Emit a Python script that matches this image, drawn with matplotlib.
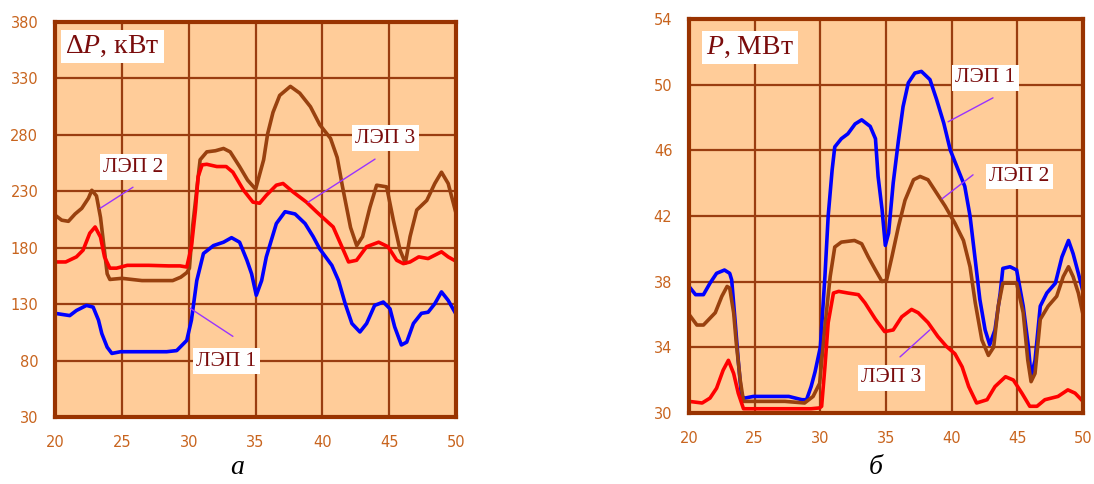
import numpy as np
import matplotlib
matplotlib.use('agg')
import matplotlib.pyplot as plt

plt.rcParams['mathtext.fontset'] = 'custom'
plt.rcParams['mathtext.rm'] = 'Liberation Serif'
plt.rcParams['mathtext.it'] = 'Liberation Serif:italic'

# --- losses, kW (left panel) ---
dp1_x = [20, 21.1, 21.6, 22.35, 22.85, 23.25, 23.5, 23.9, 24.25, 24.9, 26, 27.5, 28.35, 29.1, 29.85,
         30.2, 30.6, 31.1, 31.85, 32.6, 33.2, 33.8, 34.35, 34.7, 35.05, 35.45, 35.8, 36.55, 37.2,
         37.95, 38.7, 39.3, 39.8, 40.7, 41.2, 41.7, 42.2, 42.8, 43.3, 43.9, 44.55, 45.05, 45.4,
         45.9, 46.3, 46.8, 47.4, 47.9, 48.4, 48.9, 49.4, 50]
dp1_y = [122, 120, 124.5, 129, 127.5, 116, 104, 92, 86.5, 88, 88, 88, 88, 89, 98,
         116, 151, 175, 182, 185, 189, 185, 169, 157, 138, 151, 172, 201.5, 212,
         210, 201.5, 190, 179, 164.5, 151, 130.5, 113, 105.5, 113, 129, 132, 126, 110,
         94, 96.5, 113, 122, 123, 130.5, 141, 133.5, 121]

dp2_x = [20, 20.5, 21, 21.5, 22, 22.5, 22.75, 23.1, 23.4, 23.9, 24.1, 25, 26.5, 28, 28.8, 29.4, 29.85,
         30.05, 30.3, 30.85, 31.35, 32.0, 32.6, 33.1, 33.8, 34.4, 35.0, 35.6, 35.9, 36.3, 36.8,
         37.6, 38.3, 39.1, 39.8, 40.6, 41.1, 41.5, 42.1, 42.56, 43.0, 43.55, 44.05, 44.8, 45.3,
         45.8, 46.2, 46.55, 47.05, 47.8, 48.4, 48.9, 49.4, 50]
dp2_y = [209, 204.5, 203.5, 210, 215, 224, 231, 226, 207, 157, 152, 153, 151, 151, 151, 154, 158,
         162, 200, 258, 265, 266, 268, 265, 252, 240, 232, 258, 281, 300, 315,
         323, 317, 305, 289, 277, 260, 234, 198, 182, 190, 216, 235.5, 234, 204.5,
         178, 166.5, 190, 213.5, 222, 237, 247, 237, 210]

dp3_x = [20, 20.8, 21.6, 22.1, 22.6, 23.0, 23.4, 23.7, 24.1, 24.6, 25.4, 27, 28.5, 29.35, 29.85,
         30.2, 30.5, 30.7, 31.0, 31.35, 32.1, 32.8, 33.3, 34.1, 34.8, 35.3, 35.8, 36.55, 37.05,
         37.8, 38.8, 39.55, 40.1, 40.8, 41.45, 41.95, 42.55, 43.3, 44.2, 44.9, 45.55, 46.05,
         46.55, 47.2, 47.9, 48.4, 48.9, 49.4, 50]
dp3_y = [167.5, 167.5, 172, 178, 193, 198.5, 189.5, 172, 162, 162, 164.5, 164.5, 164, 164, 163,
         181, 213.5, 243, 253.5, 254, 252, 252, 247, 231, 220.5, 219.5, 226.5, 235.5, 237,
         229.5, 220.5, 212, 206, 198.5, 181, 167.5, 169, 181, 185, 181, 169, 166,
         167.5, 172, 170.5, 173.5, 176.5, 172, 168]

# --- power flow, MW (right panel) ---
p1_x = [20, 20.5, 21.1, 21.6, 22.1, 22.7, 23.1, 23.25, 23.5, 23.75, 24.0, 24.25, 24.9, 26.5, 27.6,
        28.6, 28.95, 29.3, 29.6, 30.0, 30.35, 30.6, 30.9, 31.1, 31.6, 32.1, 32.65, 33.15, 33.8,
        34.2, 34.4, 34.7, 34.95, 35.2, 35.55, 35.95, 36.3, 36.7, 37.2, 37.7, 38.35, 38.85, 39.4,
        39.9, 40.25, 41.0, 41.4, 41.8, 42.15, 42.55, 42.9, 43.3, 43.7, 43.9, 44.45, 44.95,
        45.45, 45.85, 46.05, 46.35, 46.75, 47.25, 47.9, 48.4, 48.9, 49.25, 49.65, 50]
p1_y = [37.7, 37.2, 37.2, 37.9, 38.5, 38.7, 38.5, 38.1, 35.7, 33.2, 31.0, 30.9, 31.0, 31.0, 31.0,
        30.8, 30.8, 31.6, 32.5, 34.0, 38.3, 42.0, 44.8, 46.2, 46.7, 47.0, 47.6, 47.85, 47.45,
        46.7, 44.4, 42.4, 40.2, 40.95, 44.0, 46.6, 48.65, 50.1, 50.7, 50.8, 50.3, 49.1, 47.65,
        46.0, 45.3, 43.8, 42.0, 39.3, 36.9, 35.05, 34.15, 35.05, 37.3, 38.8, 38.9, 38.7,
        36.5, 34.0, 32.2, 33.2, 36.5, 37.3, 37.9, 39.5, 40.5, 39.7, 38.5, 37.4]

p2_x = [20, 20.6, 21.1, 22.0, 22.5, 22.9, 23.1, 23.4, 23.6, 23.9, 24.15, 24.5, 26, 27.3, 28.8,
        29.45, 29.95, 30.35, 30.75, 31.1, 31.6, 32.6, 33.15, 33.65, 34.2, 34.7, 35.05, 35.45,
        35.95, 36.45, 37.1, 37.6, 38.2, 38.85, 39.5, 40.0, 40.25, 40.9, 41.4, 41.8, 42.3, 42.8,
        43.2, 43.55, 43.9, 44.95, 45.45, 45.8, 46.05, 46.35, 46.75, 47.35, 48.0, 48.5, 48.9,
        49.25, 49.65, 50]
p2_y = [36.0, 35.35, 35.35, 36.1, 37.1, 37.7, 37.6, 36.1, 34.25, 32.0, 30.7, 30.7, 30.7, 30.7, 30.6,
        31.0, 31.8, 35.25, 38.3, 40.1, 40.4, 40.5, 40.3, 39.5, 38.7, 38.0, 38.1, 39.5,
        41.35, 42.95, 44.2, 44.4, 44.2, 43.4, 42.6, 41.9, 41.55, 40.5, 38.9, 36.7, 34.45, 33.5,
        34.0, 36.5, 37.9, 37.9, 36.1, 33.2, 31.9, 32.4, 35.7, 36.5, 37.1, 38.3, 38.9,
        38.3, 37.3, 36.0]

p3_x = [20, 21.0, 21.6, 22.1, 22.6, 23.0, 23.4, 23.75, 24.15, 24.5, 26, 28, 29.3, 29.95, 30.1,
        30.35, 30.6, 31.0, 31.4, 32.1, 32.9, 33.4, 34.2, 34.9, 35.55, 36.2, 36.95, 37.45,
        38.2, 38.95, 39.6, 40.25, 40.8, 41.3, 41.9, 42.7, 43.3, 44.1, 44.7, 45.35, 45.95,
        46.5, 47.1, 48.1, 48.85, 49.4, 50]
p3_y = [30.7, 30.6, 30.9, 31.5, 32.6, 33.2, 32.4, 31.2, 30.25, 30.25, 30.25, 30.25, 30.25, 30.3, 30.4,
        32.8, 35.5, 37.3, 37.4, 37.3, 37.2, 36.7, 35.7, 34.95, 35.05, 35.85, 36.3, 36.1,
        35.5, 34.65, 34.05, 33.6, 32.8, 31.6, 30.6, 30.8, 31.6, 32.2, 32.0, 31.2, 30.4,
        30.4, 30.8, 31.0, 31.4, 31.2, 30.7]

x_ticks = [20, 25, 30, 35, 40, 45, 50]
dp_ticks = [30, 80, 130, 180, 230, 280, 330, 380]
p_ticks = [30, 34, 38, 42, 46, 50, 54]

BG = '#ffcc99'
GRID = '#9a3d10'
FRAME = '#993300'
TICK = '#c8641e'
LABEL = '#7a0c0c'
LEADER = '#9933ff'
BLUE = '#0000ff'
RED = '#ff0000'
BROWN = '#99410f'

fig = plt.figure(figsize=(10.94, 4.84), dpi=100)
ax1 = fig.add_axes([0.0503, 0.138, 0.3667, 0.8165])
ax2 = fig.add_axes([0.6298, 0.147, 0.3601, 0.814])


def style(ax, yticks):
    ax.set_facecolor(BG)
    ax.set_xlim(20, 50)
    ax.set_ylim(yticks[0], yticks[-1])
    ax.set_xticks(x_ticks)
    ax.set_yticks(yticks)
    ax.grid(True, color=GRID, linewidth=1.6)
    ax.set_axisbelow(True)
    for s in ax.spines.values():
        s.set_color(FRAME)
        s.set_linewidth(3)
    ax.tick_params(length=0, colors=TICK, labelsize=10.5)
    ax.tick_params(axis='x', pad=13)
    ax.tick_params(axis='y', pad=12)
    for t in ax.get_xticklabels() + ax.get_yticklabels():
        t.set_family('DejaVu Sans')


def tag(ax, x, y, s, size=15.5):
    ax.text(x, y, s, ha='center', va='center', fontsize=size, color=LABEL,
            family='Liberation Serif', zorder=6,
            bbox=dict(facecolor='white', edgecolor='none', pad=2.5))


def leader(ax, p0, p1):
    ax.annotate('', xy=p0, xytext=p1,
                arrowprops=dict(arrowstyle='-', color=LEADER, lw=1.0,
                                shrinkA=0, shrinkB=0), zorder=5)


style(ax1, dp_ticks)
ax1.plot(dp1_x, dp1_y, color=BLUE, lw=2.6)
ax1.plot(dp2_x, dp2_y, color=BROWN, lw=2.6)
ax1.plot(dp3_x, dp3_y, color=RED, lw=2.6)
ax1.text(24.3, 358.5, r'$\Delta P$, кВт', ha='center', va='center',
         fontsize=20, color=LABEL, family='Liberation Serif', zorder=6,
         bbox=dict(facecolor='white', edgecolor='none', pad=3))
tag(ax1, 25.85, 251.5, 'ЛЭП 2')
leader(ax1, (23.37, 215), (25.83, 233.7))
tag(ax1, 44.7, 277, 'ЛЭП 3')
leader(ax1, (38.92, 220.4), (43.93, 258.6))
tag(ax1, 32.8, 79.5, 'ЛЭП 1')
leader(ax1, (30.1, 126.5), (33.3, 101.6))

style(ax2, p_ticks)
ax2.plot(p1_x, p1_y, color=BLUE, lw=2.6)
ax2.plot(p2_x, p2_y, color=BROWN, lw=2.6)
ax2.plot(p3_x, p3_y, color=RED, lw=2.6)
ax2.text(24.65, 52.25, r'$P$, МВт', ha='center', va='center',
         fontsize=20, color=LABEL, family='Liberation Serif', zorder=6,
         bbox=dict(facecolor='white', edgecolor='none', pad=3))
tag(ax2, 42.55, 50.4, 'ЛЭП 1')
leader(ax2, (39.73, 47.73), (43.15, 49.19))
tag(ax2, 45.15, 44.4, 'ЛЭП 2')
leader(ax2, (39.27, 43.04), (41.63, 44.5))
tag(ax2, 35.4, 32.15, 'ЛЭП 3')
leader(ax2, (36.07, 33.41), (38.35, 35.06))

fig.text(237 / 1094, 1 - 468 / 484, 'а', ha='center', va='center', fontsize=20,
         style='italic', family='Liberation Serif', color='black')
fig.text(876 / 1094, 1 - 468 / 484, 'б', ha='center', va='center', fontsize=20,
         style='italic', family='Liberation Serif', color='black')

fig.savefig('out.png', dpi=100)
